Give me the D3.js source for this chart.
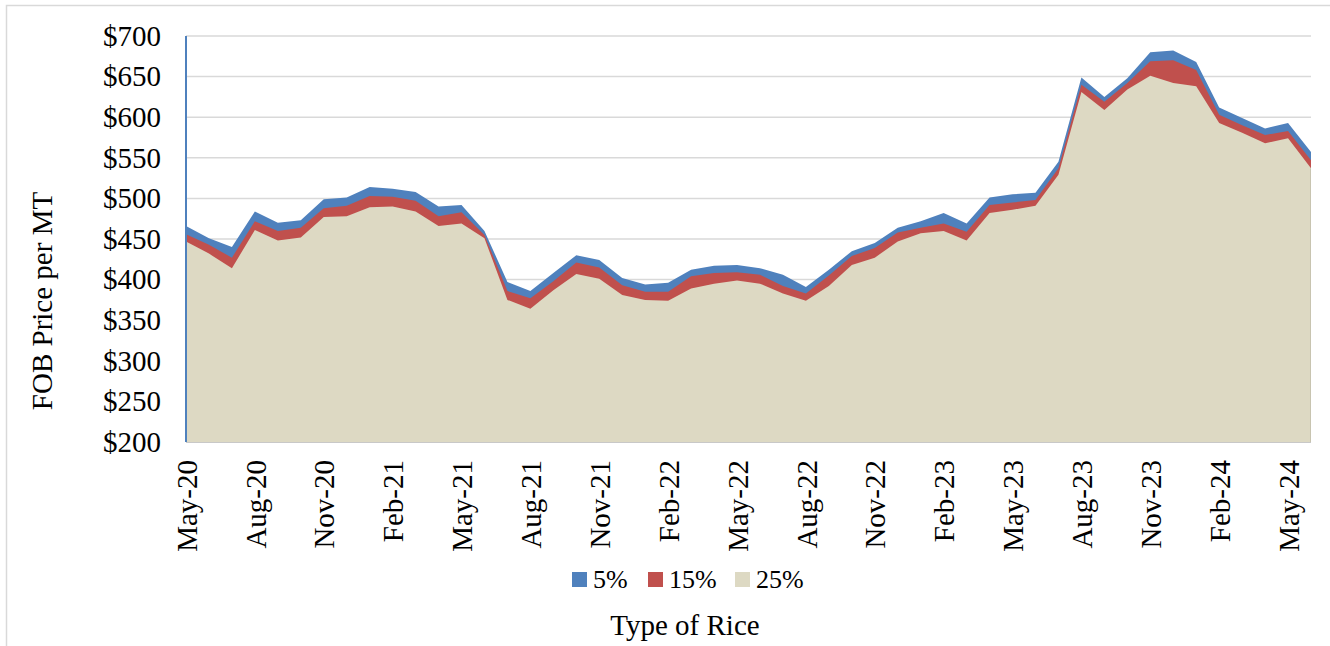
<!DOCTYPE html>
<html><head><meta charset="utf-8">
<script src="https://cdn.jsdelivr.net/npm/d3@7"></script>
<style>body{margin:0;background:#fff}svg{display:block}</style>
</head><body>
<svg id="c" width="1330" height="646"></svg>
<script>
const months = ["May-20","Jun-20","Jul-20","Aug-20","Sep-20","Oct-20","Nov-20","Dec-20","Jan-21","Feb-21","Mar-21","Apr-21",
"May-21","Jun-21","Jul-21","Aug-21","Sep-21","Oct-21","Nov-21","Dec-21","Jan-22","Feb-22","Mar-22","Apr-22",
"May-22","Jun-22","Jul-22","Aug-22","Sep-22","Oct-22","Nov-22","Dec-22","Jan-23","Feb-23","Mar-23","Apr-23",
"May-23","Jun-23","Jul-23","Aug-23","Sep-23","Oct-23","Nov-23","Dec-23","Jan-24","Feb-24","Mar-24","Apr-24","May-24","Jun-24"];
const rice5  = [466,451,440,484,470,473,499,501,514,512,508,490,492,460,397,386,408,430,424,402,394,396,412,417,418,414,406,391,412,435,445,464,472,482,469,501,505,507,545,649,625,648,680,682,668,612,599,586,593,557];
const rice15 = [456,443,427,472,460,464,488,491,503,502,497,478,483,455,386,377,398,421,415,393,385,385,404,408,409,406,392,383,405,429,439,458,464,469,459,492,495,498,537,640,619,642,669,670,658,603,590,578,583,547];
const rice25 = [447,432,414,461,448,452,477,478,489,490,484,466,469,451,375,364,387,407,401,381,375,374,389,395,399,395,383,374,392,418,427,447,457,460,448,482,486,491,529,631,609,634,651,642,638,593,581,568,574,537];
const yTicks = [200,250,300,350,400,450,500,550,600,650,700];
const tickMonths = months.filter((m,i)=>i%3===0);
const seriesNames = ["5%","15%","25%"];
const seriesColors = ["#4F81BD","#C0504D","#DDD9C3"];

const svg = d3.select("#c");
const font = "'Liberation Serif','Times New Roman',serif";
const L=186, R=1311, T=36, B=442;

// outer chart border
svg.append("rect").attr("x",6.5).attr("y",5.5).attr("width",1400).attr("height",700)
  .attr("fill","none").attr("stroke","#d9d9d9").attr("stroke-width",1.5);

const x = d3.scalePoint().domain(months).range([L,R]);
const y = d3.scaleLinear().domain([200,700]).range([B,T]);

// gridlines
svg.append("g").selectAll("line").data(yTicks.filter(t=>t>200)).join("line")
  .attr("x1",L).attr("x2",R).attr("y1",d=>y(d)).attr("y2",d=>y(d))
  .attr("stroke","#d9d9d9").attr("stroke-width",1.5);

const area = d3.area().x((d,i)=>x(months[i])).y0(y(200)).y1(d=>y(d));
[rice5,rice15,rice25].forEach((s,k)=>{
  svg.append("path").datum(s).attr("d",area).attr("fill",seriesColors[k]);
});

// axis lines
svg.append("line").attr("x1",L).attr("x2",R).attr("y1",B+0.5).attr("y2",B+0.5).attr("stroke","#c8c8c8").attr("stroke-width",1);
svg.append("line").attr("x1",R-0.5).attr("x2",R-0.5).attr("y1",y(rice25[rice25.length-1])).attr("y2",B).attr("stroke","#c8c4b0").attr("stroke-width",1);
svg.append("line").attr("x1",L).attr("x2",L).attr("y1",T).attr("y2",B).attr("stroke","#4F81BD").attr("stroke-width",2);

// y axis labels
const yAxis = d3.axisLeft(y).tickValues(yTicks).tickFormat(d=>"$"+d).tickSize(0).tickPadding(25);
const gy = svg.append("g").attr("transform",`translate(${L},0)`).call(yAxis);
gy.select(".domain").remove();
gy.selectAll("text").attr("font-family",font).attr("font-size",29).attr("fill","#000");

// x axis labels
const xAxis = d3.axisBottom(x).tickValues(tickMonths).tickSize(0);
const gx = svg.append("g").attr("transform",`translate(0,${B})`).call(xAxis);
gx.select(".domain").remove();
gx.selectAll("text").attr("font-family",font).attr("font-size",29).attr("fill","#000")
  .attr("text-anchor","end").attr("transform","rotate(-90)").attr("x",-18).attr("y",0).attr("dy","0.35em");

// y title
svg.append("text").attr("transform","translate(52,301) rotate(-90)").attr("text-anchor","middle")
  .attr("font-family",font).attr("font-size",29).text("FOB Price per MT");
// x title
svg.append("text").attr("x",685).attr("y",635).attr("text-anchor","middle")
  .attr("font-family",font).attr("font-size",29).text("Type of Rice");

// legend
const legX = [572,648,735];
seriesNames.forEach((n,k)=>{
  svg.append("rect").attr("x",legX[k]).attr("y",572).attr("width",15).attr("height",15).attr("fill",seriesColors[k]);
  svg.append("text").attr("x",legX[k]+21).attr("y",588).attr("font-family",font).attr("font-size",26).text(n);
});
</script>
</body></html>
